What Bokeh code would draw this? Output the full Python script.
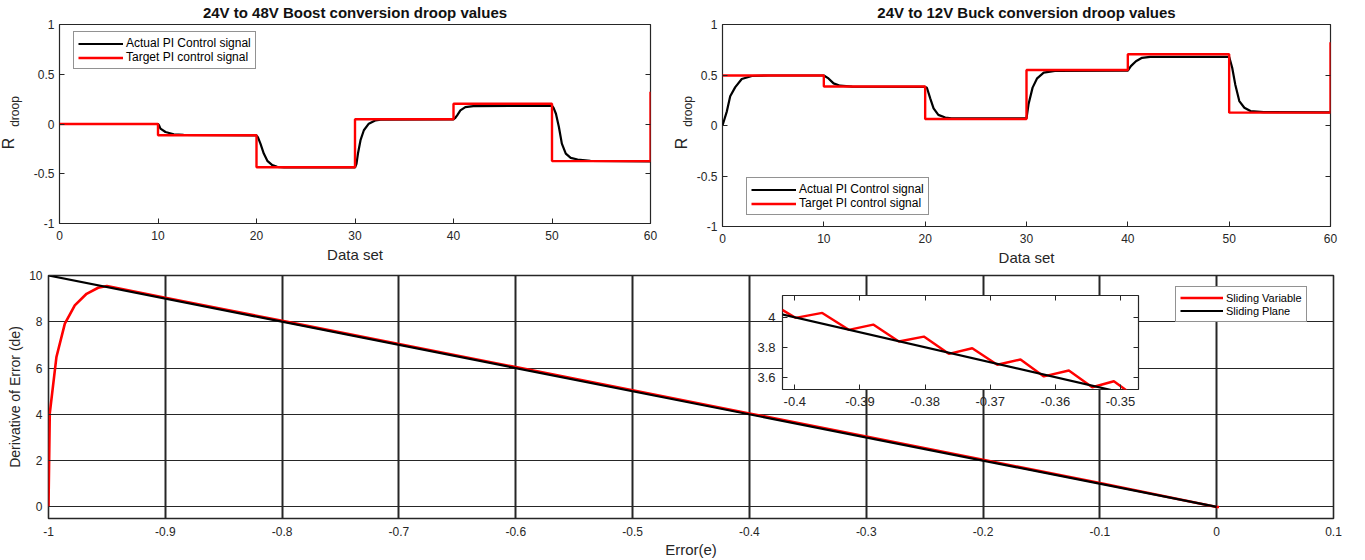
import math
from bokeh.plotting import figure
from bokeh.models import (Range1d, LinearAxis, FixedTicker, CustomJSTickFormatter,
                          Legend, LegendItem)
from bokeh.layouts import column, row
from bokeh.embed import file_html
from bokeh.resources import INLINE
from bokeh.core.properties import value

FONT = "Liberation Sans"
INK = "#262626"
RED = "#ff0000"
BLACK = "#000000"

# ---------------- data ----------------
boost_title = "24V to 48V Boost conversion droop values"
buck_title = "24V to 12V Buck conversion droop values"
dataset_ticks = [0, 10, 20, 30, 40, 50, 60]
droop_ticks = [-1, -0.5, 0, 0.5, 1]

boost_target_x = [0, 10, 20, 30, 40, 50, 60]
boost_target_y = [0.0, -0.113, -0.435, 0.047, 0.203, -0.373, 0.323]
boost_actual_x = [0, 10, 10.1, 10.25, 10.76, 11.6, 12.6, 20, 20.15, 20.4, 20.74, 21.1, 21.6, 22.1, 22.8,
                  30, 30.15, 30.3, 30.56, 30.9, 31.4, 32.1, 32.6, 40, 40.15, 40.37, 40.7, 41.2, 42.0,
                  50, 50.15, 50.4, 50.7, 51.0, 51.4, 51.9, 52.6, 53.9, 60]
boost_actual_y = [0.0, 0.0, -0.012, -0.047, -0.08, -0.103, -0.11, -0.115, -0.135, -0.197, -0.297, -0.37, -0.413, -0.43, -0.437,
                  -0.437, -0.40, -0.297, -0.163, -0.063, 0.003, 0.037, 0.043, 0.047, 0.058, 0.087, 0.137, 0.17, 0.18,
                  0.183, 0.165, 0.103, -0.03, -0.197, -0.297, -0.34, -0.357, -0.37, -0.375]

buck_target_x = [0, 10, 20, 30, 40, 50, 60]
buck_target_y = [0.495, 0.386, 0.064, 0.549, 0.705, 0.127, 0.825]
buck_actual_x = [0, 0.43, 0.76, 1.26, 1.9, 2.9, 4.6, 10, 10.46, 10.96, 11.6, 12.8,
                 20, 20.17, 20.5, 20.83, 21.3, 21.98, 22.6, 30, 30.2, 30.6, 31.05, 31.7, 32.8,
                 40, 40.3, 40.8, 41.4, 42.2, 50, 50.3, 50.6, 51.0, 51.5, 52.1, 53.4, 60]
buck_actual_y = [0.0, 0.14, 0.29, 0.38, 0.46, 0.49, 0.495, 0.495, 0.466, 0.417, 0.394, 0.384,
                 0.382, 0.374, 0.269, 0.17, 0.105, 0.079, 0.072, 0.07, 0.21, 0.375, 0.467, 0.523, 0.54,
                 0.543, 0.588, 0.637, 0.67, 0.68, 0.68, 0.572, 0.407, 0.242, 0.176, 0.143, 0.133, 0.13]

error_ticks = [-1, -0.9, -0.8, -0.7, -0.6, -0.5, -0.4, -0.3, -0.2, -0.1, 0, 0.1]
de_ticks = [0, 2, 4, 6, 8, 10]
plane_e = [-1.0, 0.0]
plane_de = [10.0, 0.0]
slide_e = [-1.0, -0.9989, -0.9932, -0.986, -0.9775, -0.9674, -0.9575, -0.95, -0.9, -0.85, -0.8,
           -0.7, -0.6, -0.5, -0.4, -0.3, -0.2, -0.1, 0.0, 0.002]
slide_de = [0.0, 4.04, 6.48, 7.92, 8.71, 9.21, 9.47, 9.55, 9.04, 8.54, 8.04,
            7.04, 6.04, 5.04, 4.04, 3.04, 2.04, 1.03, 0.0, 0.0]

zoom_e = [-0.40193, -0.39989, -0.39579, -0.39171, -0.38796, -0.38403, -0.38019, -0.37636,
          -0.37276, -0.36892, -0.36535, -0.36177, -0.35793, -0.35434, -0.35102, -0.34907]
zoom_de = [4.049, 3.996, 4.029, 3.916, 3.951, 3.838, 3.871, 3.756,
           3.793, 3.683, 3.718, 3.605, 3.645, 3.533, 3.573, 3.511]
zoom_e_ticks = [-0.4, -0.39, -0.38, -0.37, -0.36, -0.35]
zoom_de_ticks = [3.6, 3.8, 4.0]

ylabel_main = "R"
ylabel_sub = "droop"


# ---------------- helpers ----------------
def fmt():
    return CustomJSTickFormatter(code="return String(Math.round(tick*1000)/1000);")


def style_axis(ax, ticks, standoff, tick_size="12px", label_size="15px"):
    ax.ticker = FixedTicker(ticks=ticks, minor_ticks=[])
    ax.formatter = fmt()
    ax.major_tick_in = 5
    ax.major_tick_out = 0
    ax.minor_tick_line_color = None
    ax.axis_line_color = None
    ax.major_tick_line_color = INK
    ax.major_label_text_font = FONT
    ax.major_label_text_font_size = tick_size
    ax.major_label_text_color = INK
    ax.major_label_standoff = standoff
    ax.axis_label_text_font = FONT
    ax.axis_label_text_font_size = label_size
    ax.axis_label_text_font_style = "normal"
    ax.axis_label_text_color = INK


def mirror(p, ticks, side):
    ax = LinearAxis(ticker=FixedTicker(ticks=ticks, minor_ticks=[]),
                    formatter=CustomJSTickFormatter(code="return '';"),
                    major_label_text_font_size="0px", major_label_standoff=0,
                    major_tick_in=5, major_tick_out=0, axis_line_color=None,
                    minor_tick_line_color=None, major_tick_line_color=INK)
    p.add_layout(ax, side)


def make_legend(items, loc, size="12px", gw=45):
    return Legend(items=items, location=loc, label_text_font=FONT, label_text_font_size=size,
                  label_text_color=BLACK, glyph_width=gw, glyph_height=13, label_height=13,
                  label_standoff=3, spacing=0, padding=4, margin=0,
                  border_line_color=INK, border_line_width=1, background_fill_color="white",
                  background_fill_alpha=1.0)


def droop_panel(width, lb, rb, bb, title, tgt_x, tgt_y, act_x, act_y, leg_loc, xstand):
    p = figure(width=width, height=268, x_range=Range1d(0, 60), y_range=Range1d(-1, 1),
               output_backend="svg", toolbar_location=None,
               min_border_left=lb, min_border_right=rb, min_border_top=23, min_border_bottom=bb,
               background_fill_color="white", border_fill_color="white")
    p.title.text = title
    p.title.align = "center"
    p.title.vertical_align = "middle"
    p.title.text_font = FONT
    p.title.text_font_size = "15px"
    p.title.text_font_style = "bold"
    p.title.text_color = "#111111"
    p.title.standoff = 5
    p.outline_line_color = INK
    p.outline_line_width = 1.2
    p.grid.visible = False
    style_axis(p.xaxis[0], dataset_ticks, xstand)
    style_axis(p.yaxis[0], droop_ticks, 5)
    p.xaxis[0].axis_label = "Data set"
    p.xaxis[0].axis_label_standoff = 3
    mirror(p, droop_ticks, "right")
    rb_ = p.line(act_x, act_y, line_color=BLACK, line_width=2.2)
    rr_ = p.step(tgt_x, tgt_y, mode="after", line_color=RED, line_width=2.4)
    p.add_layout(make_legend([LegendItem(label="Actual PI Control signal", renderers=[rb_]),
                              LegendItem(label="Target PI control signal", renderers=[rr_])], leg_loc))
    return p


p1 = droop_panel(686, 59, 36, 45, boost_title,
                 boost_target_x, boost_target_y, boost_actual_x, boost_actual_y, (14, 154), 7)
p2 = droop_panel(679, 36, 35, 42, buck_title,
                 buck_target_x, buck_target_y, buck_actual_x, buck_actual_y, (24, 11), 7)

# ---------------- sliding mode panel ----------------
p3 = figure(width=1365, height=292, x_range=Range1d(-1, 0.1), y_range=Range1d(-0.5, 10),
            output_backend="svg", toolbar_location=None,
            min_border_left=48, min_border_right=32, min_border_top=7, min_border_bottom=41,
            background_fill_color="white", border_fill_color="white")
p3.outline_line_color = INK
p3.outline_line_width = 1.6
style_axis(p3.xaxis[0], error_ticks, 8)
style_axis(p3.yaxis[0], de_ticks, 6, label_size="14px")
p3.xaxis[0].axis_label = "Error(e)"
p3.xaxis[0].axis_label_standoff = 2
p3.yaxis[0].axis_label = "Derivative of Error (de)"
p3.yaxis[0].axis_label_standoff = 3
p3.xgrid.ticker = FixedTicker(ticks=error_ticks, minor_ticks=[])
p3.ygrid.ticker = FixedTicker(ticks=de_ticks, minor_ticks=[])
p3.xgrid.grid_line_color = INK
p3.xgrid.grid_line_width = 2
p3.xgrid.grid_line_alpha = 1
p3.ygrid.grid_line_color = INK
p3.ygrid.grid_line_width = 1
p3.ygrid.grid_line_alpha = 1
sv = p3.line(slide_e, slide_de, line_color=RED, line_width=2.6)
sp = p3.line(plane_e, plane_de, line_color=BLACK, line_width=2.2)
p3.add_layout(make_legend([LegendItem(label="Sliding Variable", renderers=[sv]),
                           LegendItem(label="Sliding Plane", renderers=[sp])], (1127, 196),
                          size="11px", gw=43))

# ---------------- inset (zoom) ----------------
inset = figure(width=426, height=124, x_range=Range1d(-0.40189, -0.34724),
               y_range=Range1d(3.518, 4.145), output_backend="svg", toolbar_location=None,
               min_border_left=48, min_border_right=22, min_border_top=5, min_border_bottom=25,
               background_fill_color="white", border_fill_color=None)
inset.outline_line_color = INK
inset.outline_line_width = 1.2
inset.grid.visible = False
style_axis(inset.xaxis[0], zoom_e_ticks, 7, tick_size="13px")
style_axis(inset.yaxis[0], zoom_de_ticks, 7, tick_size="13px")
mirror(inset, zoom_e_ticks, "above")
mirror(inset, zoom_de_ticks, "right")
inset.line(zoom_e, zoom_de, line_color=RED, line_width=2.4)
inset.line(plane_e, plane_de, line_color=BLACK, line_width=2.2)
inset_box = row(inset, styles={"position": "absolute", "left": "734px", "top": "290px",
                               "z-index": "5"})

# ---------------- overlay for the subscripted y labels ----------------
ov = figure(width=1365, height=560, x_range=Range1d(0, 1365), y_range=Range1d(560, 0),
            x_axis_type=None, y_axis_type=None, output_backend="svg", toolbar_location=None,
            min_border=0, outline_line_color=None, background_fill_color=None,
            border_fill_color=None)
ov.grid.visible = False
ov.text(x=[8, 681], y=[143, 143], text=[ylabel_main, ylabel_main], angle=math.pi / 2,
        text_font=value(FONT), text_font_size=value("16px"), text_color=INK,
        text_align="center", text_baseline="middle")
ov.text(x=[14, 687], y=[111, 111], text=[ylabel_sub, ylabel_sub], angle=math.pi / 2,
        text_font=value(FONT), text_font_size=value("12px"), text_color=INK,
        text_align="center", text_baseline="middle")
ov_box = row(ov, styles={"position": "absolute", "left": "0px", "top": "0px", "z-index": "6",
                         "pointer-events": "none"})

layout = column(row(p1, column(p2)), p3, inset_box, ov_box)

with open("out.html", "w") as f:
    f.write(file_html(layout, INLINE))
